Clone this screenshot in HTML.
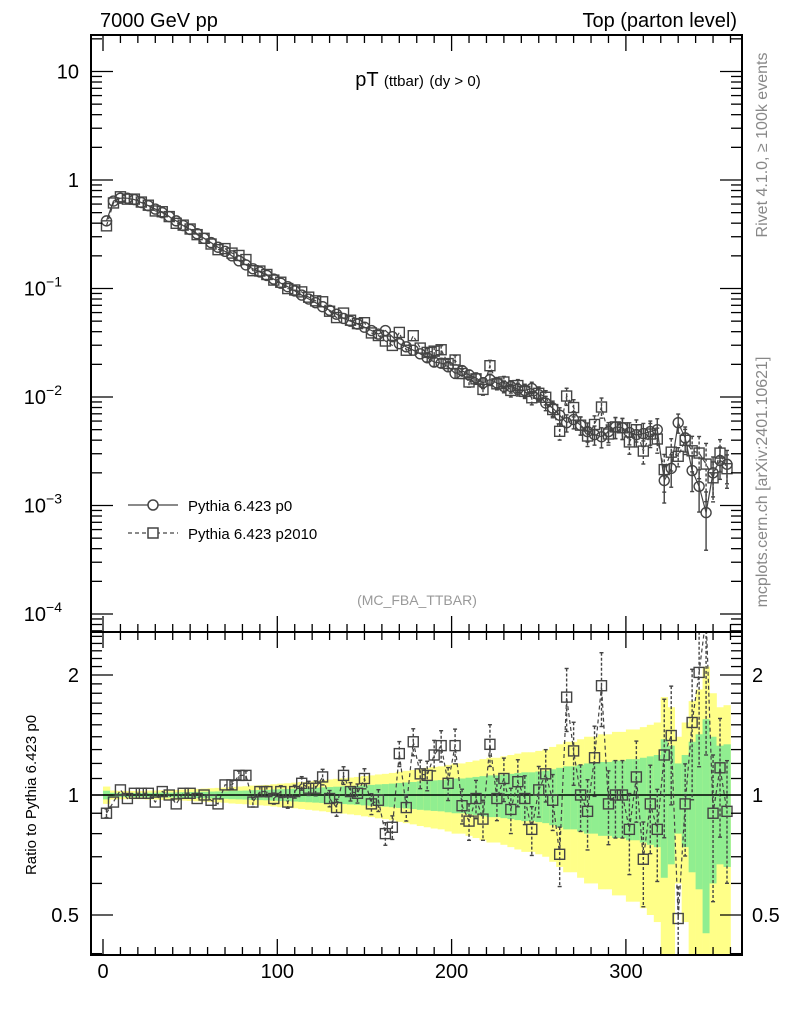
<!DOCTYPE html>
<html><head><meta charset="utf-8"><style>
html,body{margin:0;padding:0;background:#fff;width:786px;height:1024px;overflow:hidden;}
svg{display:block;font-family:"Liberation Sans",sans-serif;}
</style></head><body>
<svg id="c" width="786" height="1024" viewBox="0 0 786 1024" xmlns="http://www.w3.org/2000/svg">
<text x="100" y="27" font-size="20">7000 GeV pp</text>
<text x="737" y="27" font-size="20" text-anchor="end">Top (parton level)</text>
<text x="418" y="86" font-size="20" text-anchor="middle">pT <tspan font-size="15">(ttbar)</tspan> <tspan font-size="15">(dy &gt; 0)</tspan></text>
<text x="417" y="605" font-size="14" fill="#999" text-anchor="middle">(MC_FBA_TTBAR)</text>
<text transform="translate(767,145) rotate(-90)" font-size="16" fill="#888" text-anchor="middle">Rivet 4.1.0, ≥ 100k events</text>
<text transform="translate(767,482) rotate(-90)" font-size="16" fill="#888" text-anchor="middle">mcplots.cern.ch [arXiv:2401.10621]</text>
<text transform="translate(36,795) rotate(-90)" font-size="15" text-anchor="middle">Ratio to Pythia 6.423 p0</text>
<g>
<g>
<line x1="128" y1="505" x2="178" y2="505" stroke="#444" stroke-width="1.3"/>
<circle cx="153" cy="505" r="5" fill="#fff" stroke="#444" stroke-width="1.5"/>
<text x="188" y="511" font-size="15">Pythia 6.423 p0</text></g>
<g>
<line x1="128" y1="533" x2="178" y2="533" stroke="#444" stroke-width="1.3" stroke-dasharray="4,3"/>
<rect x="148" y="528" width="10" height="10" fill="#fff" stroke="#444" stroke-width="1.5"/>
<text x="188" y="539" font-size="15">Pythia 6.423 p2010</text></g>
</g>
</svg>
<script>
const pT = [];
for (let i = 0; i < 90; i++) pT.push(2 + 4 * i);
const p0Values = [0.42,0.64,0.68,0.68,0.66,0.62,0.58,0.54,0.50,0.46,
0.42,0.38,0.35,0.32,0.29,0.265,0.24,0.22,0.20,0.18,
0.165,0.152,0.142,0.132,0.122,0.112,0.104,0.095,0.087,0.080,
0.074,0.068,0.063,0.058,0.053,0.050,0.047,0.044,0.041,0.038,
0.041,0.036,0.031,0.029,0.027,0.025,0.023,0.021,0.0205,0.019,
0.0165,0.0175,0.016,0.015,0.0135,0.0145,0.0135,0.0125,0.0125,0.0118,
0.0115,0.012,0.0105,0.0088,0.0079,0.0068,0.0058,0.0062,0.0055,0.0048,
0.0045,0.0043,0.0048,0.0053,0.0052,0.0047,0.0045,0.0046,0.0048,0.0050,
0.0017,0.0022,0.0058,0.0042,0.0021,0.0015,0.00086,0.0020,0.0026,0.0024];
const ratioValues = [0.90,0.96,1.03,0.98,1.01,1.01,1.01,0.96,1.02,1.0,
0.95,1.01,1.01,0.98,1.0,0.97,0.95,1.06,1.06,1.12,
1.12,0.96,1.02,1.02,0.98,1.02,0.96,1.02,1.07,1.04,
1.04,1.11,0.98,0.93,1.12,1.02,1.01,1.10,0.95,0.97,
0.80,0.83,1.27,0.93,1.36,1.13,1.12,1.26,1.33,1.07,
1.33,0.94,0.86,0.98,0.87,1.34,0.98,1.10,0.92,1.08,
0.98,0.82,1.03,1.13,0.97,0.71,1.76,1.29,1.0,0.91,
1.24,1.88,0.95,1.0,1.0,0.82,1.11,0.69,0.95,0.82,
1.26,1.41,0.49,0.95,1.52,2.03,2.8,0.90,1.17,0.91];
const relErr = [0.025,0.013,0.012,0.012,0.012,0.012,0.013,0.013,0.014,0.014,
0.015,0.016,0.017,0.018,0.019,0.02,0.021,0.022,0.024,0.025,
0.026,0.028,0.029,0.03,0.032,0.034,0.035,0.037,0.039,0.041,
0.043,0.045,0.047,0.049,0.051,0.053,0.055,0.058,0.06,0.063,
0.065,0.068,0.072,0.075,0.078,0.082,0.085,0.088,0.09,0.095,
0.1,0.1,0.105,0.11,0.115,0.12,0.12,0.125,0.13,0.135,
0.14,0.14,0.145,0.15,0.16,0.17,0.18,0.18,0.19,0.2,
0.2,0.21,0.21,0.22,0.22,0.23,0.23,0.24,0.25,0.26,
0.38,0.33,0.2,0.26,0.36,0.42,0.55,0.4,0.33,0.34];
const mainTicks = [10,1,0.1,0.01,0.001,0.0001];
const mainTickLabels = ["10","1","10^-1","10^-2","10^-3","10^-4"];
const ratioTicks = [2,1,0.5];
const xTicks = [0,100,200,300];

const NS = "http://www.w3.org/2000/svg";
const svg = document.getElementById('c');
const L = 91, R = 742, T1 = 35, B1 = 632, T2 = 632, B2 = 955;
const binW = 4;
function X(v){ return 103 + 1.743 * v; }
function Y1(v){ return 180 - 108.5 * Math.log10(v); }
function Y2(v){ return 795 - 120 * Math.log2(v); }
function el(tag, attrs, parent){
  const e = document.createElementNS(NS, tag);
  for (const k in attrs) e.setAttribute(k, attrs[k]);
  (parent || svg).appendChild(e);
  return e;
}
const defs = el('defs', {});
const c1 = el('clipPath', {id:'clip1'}, defs); el('rect', {x:L, y:T1, width:R-L, height:B1-T1}, c1);
const c2 = el('clipPath', {id:'clip2'}, defs); el('rect', {x:L, y:T2, width:R-L, height:B2-T2}, c2);

const bands = el('g', {'clip-path':'url(#clip2)'});


for (let i = 0; i < pT.length; i++) {
  const x0 = X(pT[i] - binW/2), x1 = X(pT[i] + binW/2);
  const s = relErr[i];
  const yl = 1 + 2*s, yb = Math.max(1 - 2*s, 0.01);
  const r1 = el('rect', {x:x0, y:Y2(yl), width:x1-x0+0.3, height:Y2(yb)-Y2(yl), fill:'#ffff88'}, bands);
  
  
  const r2 = el('rect', {x:x0, y:Y2(1+s), width:x1-x0+0.3, height:Y2(Math.max(1-s,0.01))-Y2(1+s), fill:'#90ee90'}, bands);
  
  
}
el('line', {x1:L, x2:R, y1:Y2(1), y2:Y2(1), stroke:'#000', 'stroke-width':1.5});

const p2010 = p0Values.map((v,i) => v * ratioValues[i]);
function drawSeries(vals, Yf, clip, marker, dashed, errs, name){
  const g = el('g', {'clip-path':clip, stroke:'#444', fill:'none', 'stroke-width':1.4});
  
  
  const pts = vals.map((v,i) => X(pT[i]) + ',' + Yf(v)).join(' ');
  el('polyline', {points:pts, 'stroke-dasharray': dashed ? '4,3' : 'none', 'stroke-width':1.2}, g);
  vals.forEach((v,i) => {
    const x = X(pT[i]);
    const e = errs[i] * v;
    const yt = Yf(v + e), yb = Yf(Math.max(v - e, v*0.05));
    if (Math.abs(yb - yt) > 8) {
      el('line', {x1:x, x2:x, y1:yt, y2:yb, 'stroke-dasharray': dashed ? '3,2' : 'none'}, g);
      el('line', {x1:x-2, x2:x+2, y1:yt, y2:yt}, g);
      el('line', {x1:x-2, x2:x+2, y1:yb, y2:yb}, g);
    }
    let m;
    if (marker === 'circle') m = el('circle', {cx:x, cy:Yf(v), r:5, fill:'none'}, g);
    else m = el('rect', {x:x-5, y:Yf(v)-5, width:10, height:10, fill:'none'}, g);
    
    
  });
}
drawSeries(p2010, Y1, 'url(#clip1)', 'square', true, relErr, 'series-p2010');
drawSeries(p0Values, Y1, 'url(#clip1)', 'circle', false, relErr, 'series-p0');
drawSeries(ratioValues, Y2, 'url(#clip2)', 'square', true, relErr, 'ratio-p2010');

for (const [t,b,n] of [[T1,B1,'main-frame'],[T2,B2,'ratio-frame']]) {
  const f = el('rect', {x:L, y:t, width:R-L, height:b-t, fill:'none', stroke:'#000', 'stroke-width':2});
  
  
}
const axg = el('g', {stroke:'#000', 'stroke-width':1.3});


for (let v = 0; v <= 360; v += 10) {
  const x = X(v), len = (v % 100 === 0) ? 16 : 8;
  for (const [yt,yb] of [[T1,B1],[T2,B2]]) {
    el('line', {x1:x, x2:x, y1:yt, y2:yt+len}, axg);
    el('line', {x1:x, x2:x, y1:yb, y2:yb-len}, axg);
  }
}
xTicks.forEach(v => {
  const t = el('text', {x:X(v), y:978, 'font-size':20, 'text-anchor':'middle'});
  t.textContent = String(v);
  
  
});
for (let d = -5; d <= 1; d++) {
  for (let m = 1; m <= 9; m++) {
    const v = m * Math.pow(10, d), y = Y1(v);
    if (y < T1 || y > B1) continue;
    const len = m === 1 ? 22 : 11;
    el('line', {x1:L, x2:L+len, y1:y, y2:y}, axg);
    el('line', {x1:R, x2:R-len, y1:y, y2:y}, axg);
  }
}
mainTicks.forEach((v,i) => {
  const parts = mainTickLabels[i].split('^');
  const t = el('text', {x:79, y:Y1(v)+7, 'font-size':20, 'text-anchor':'end'});
  
  
  if (parts.length === 1) t.textContent = parts[0];
  else {
    t.setAttribute('x', 62);
    t.textContent = parts[0];
    const s = el('tspan', {dy:-9, 'font-size':14}, t);
    s.textContent = parts[1].replace('-', '−');
  }
});
for (let v = 0.4; v <= 2.6; v += 0.1) {
  const y = Y2(v);
  if (y < T2 || y > B2) continue;
  const major = Math.abs(v-0.5)<1e-6 || Math.abs(v-1)<1e-6 || Math.abs(v-2)<1e-6;
  const len = major ? 22 : 11;
  el('line', {x1:L, x2:L+len, y1:y, y2:y}, axg);
  el('line', {x1:R, x2:R-len, y1:y, y2:y}, axg);
}
ratioTicks.forEach(v => {
  const t = el('text', {x:79, y:Y2(v)+7, 'font-size':20, 'text-anchor':'end'});
  t.textContent = String(v);
  
  
  const t2 = el('text', {x:752, y:Y2(v)+7, 'font-size':20});
  t2.textContent = String(v);
  
  
});
</script>
</body></html>
